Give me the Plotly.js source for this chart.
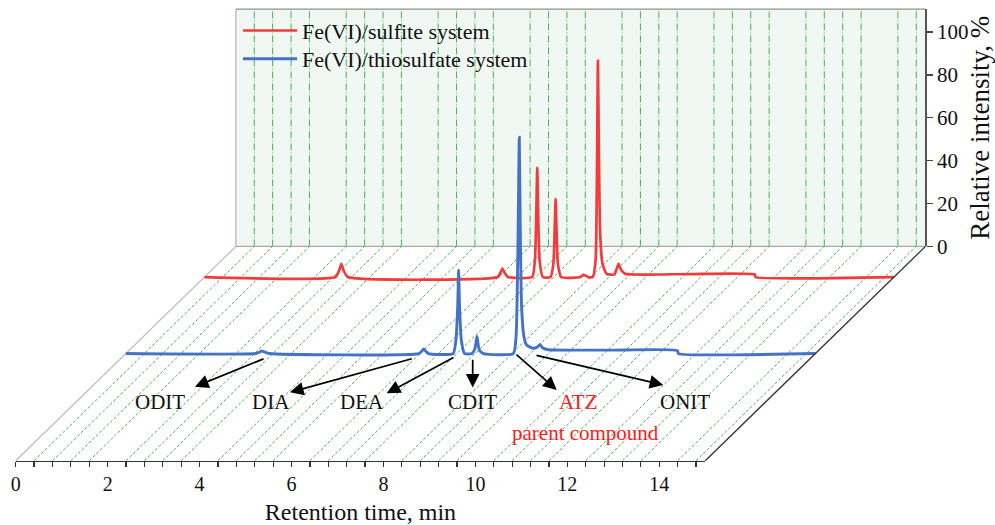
<!DOCTYPE html>
<html>
<head>
<meta charset="utf-8">
<script src="https://cdn.plot.ly/plotly-3.0.1.min.js"></script>
<style>html,body{margin:0;padding:0;background:#fff;}#chart{width:995px;height:525px;}</style>
</head>
<body>
<div id="chart"></div>
<script>
// ---------- data (retention time in min, relative intensity in %) ----------
const seriesNames = ["Fe(VI)/sulfite system", "Fe(VI)/thiosulfate system"];

const redTime = [0, 2.85, 2.93, 2.98, 3.03, 3.12, 6.38, 6.44, 6.48, 6.53, 6.60,
  7.13, 7.19, 7.22, 7.24, 7.26, 7.29, 7.36, 7.53, 7.59, 7.62, 7.64, 7.66, 7.69, 7.76,
  8.18, 8.24, 8.28, 8.34, 8.45, 8.51, 8.54, 8.56, 8.58, 8.61, 8.66, 8.75, 8.92,
  8.97, 9.01, 9.06, 9.15, 10.5, 11.97, 11.99, 15.0];
const redIntensity = [0, 0, 3, 6.2, 3, 0, 0, 2, 3.9, 2, 0,
  0, 8, 30, 51, 30, 8, 0, 0, 6, 22, 36.5, 22, 6, 0,
  0, 1, 0.8, 0, 0, 8, 50, 101, 60, 20, 6, 1.5, 1.2,
  4, 6.2, 3.5, 1.5, 1.4, 1.2, 0, 0];

const blueTime = [0, 2.82, 2.92, 2.96, 3.01, 3.12, 6.38, 6.44, 6.48, 6.52, 6.58,
  7.12, 7.18, 7.22, 7.24, 7.26, 7.30, 7.37, 7.53, 7.59, 7.62, 7.64, 7.66, 7.69, 7.78,
  8.43, 8.49, 8.53, 8.56, 8.58, 8.61, 8.66, 8.72, 8.85, 8.95, 9.01, 9.07, 9.20,
  10.5, 12.0, 12.02, 15.0];
const blueIntensity = [0, 0, 0.8, 1.2, 0.8, 0, 0, 1.2, 2.2, 1.2, 0,
  0, 6, 22, 39, 22, 6, 0, 0, 2, 5.5, 8, 5, 1.5, 0,
  0, 8, 50, 101, 60, 22, 8, 4, 2.5, 3, 4.3, 2.6, 1.8,
  1.6, 1.4, 0, 0];

const xTickVals = [0, 2, 4, 6, 8, 10, 12, 14];
const yTickVals = [0, 20, 40, 60, 80, 100];

const labels = ["ODIT", "DIA", "DEA", "CDIT", "ATZ", "ONIT"];

// ---------- pseudo-3D projection (layout constants) ----------
const T_MAX = 15;            // length of time axis
const SHEAR_X = 4.79;        // horizontal shift of back edge (min)
const SHEAR_Y = 100;         // vertical shift of back edge (intensity units)
const WALL_H = 110.7;        // wall height (intensity units)
const DEPTH = [0.857, 0.5];  // depth of each series (0 front, 1 back)
const PXX = 45.97, PXY = 2.143, X0PX = 15.7, Y0PX = 460.7, W = 995, H = 525;

function proj(ts, vs, d) {
  return {x: ts.map(t => t + d * SHEAR_X), y: vs.map(v => v + d * SHEAR_Y)};
}
function px2x(px) { return (px - X0PX) / PXX; }
function px2y(py) { return (Y0PX - py) / PXY; }

const red = proj(redTime, redIntensity, DEPTH[0]);
const blue = proj(blueTime, blueIntensity, DEPTH[1]);

const traces = [
  {x: red.x, y: red.y, type: 'scatter', mode: 'lines', name: seriesNames[0], legend: 'legend',
   line: {color: '#f03c3c', width: 2.7, shape: 'spline', smoothing: 0.5}, hoverinfo: 'skip'},
  {x: blue.x, y: blue.y, type: 'scatter', mode: 'lines', name: seriesNames[1], legend: 'legend2',
   line: {color: '#4472c4', width: 2.9, shape: 'spline', smoothing: 0.5}, hoverinfo: 'skip'},
  {x: [null], y: [null], xaxis: 'x2', yaxis: 'y2', type: 'scatter', mode: 'lines',
   showlegend: false, hoverinfo: 'skip'}
];

// ---------- shapes: wall, floor, grid ----------
const shapes = [];
shapes.push({type: 'rect', layer: 'below', xref: 'x', yref: 'y',
  x0: SHEAR_X, x1: T_MAX + SHEAR_X, y0: SHEAR_Y, y1: SHEAR_Y + WALL_H,
  fillcolor: '#f1f8f4', line: {width: 0}});
const green = '#46b34c';
for (let k = 1; k * 0.4 < T_MAX - 0.01; k++) {
  if (k % 5 === 0) continue;
  const t = k * 0.4;
  shapes.push({type: 'line', layer: 'below', xref: 'x', yref: 'y',
    x0: t, y0: 0, x1: t + SHEAR_X, y1: SHEAR_Y, line: {color: green, width: 1, dash: '3px,2px'}});
  shapes.push({type: 'line', layer: 'below', xref: 'x', yref: 'y',
    x0: t + SHEAR_X, y0: SHEAR_Y, x1: t + SHEAR_X, y1: SHEAR_Y + WALL_H,
    line: {color: green, width: 1, dash: '7px,2px,1px,2px'}});
}
// wall borders
shapes.push({type: 'line', layer: 'below', xref: 'x', yref: 'y', x0: SHEAR_X, y0: SHEAR_Y,
  x1: SHEAR_X, y1: SHEAR_Y + WALL_H, line: {color: '#b0b0b0', width: 1.2}});
shapes.push({type: 'line', layer: 'below', xref: 'x', yref: 'y', x0: SHEAR_X, y0: SHEAR_Y + WALL_H,
  x1: T_MAX + SHEAR_X, y1: SHEAR_Y + WALL_H, line: {color: '#909090', width: 1.2}});
shapes.push({type: 'line', layer: 'below', xref: 'x', yref: 'y', x0: SHEAR_X, y0: SHEAR_Y,
  x1: T_MAX + SHEAR_X, y1: SHEAR_Y, line: {color: '#a8a8a8', width: 1.2}});
// floor side edges
shapes.push({type: 'line', layer: 'below', xref: 'x', yref: 'y', x0: 0, y0: 0,
  x1: SHEAR_X, y1: SHEAR_Y, line: {color: '#bdbdbd', width: 1.2}});
shapes.push({type: 'line', layer: 'above', xref: 'x', yref: 'y', x0: T_MAX, y0: 0,
  x1: T_MAX + SHEAR_X, y1: SHEAR_Y, line: {color: '#333333', width: 1.3}});

// ---------- annotations ----------
const arrowPx = [ // [tailX, tailY, headX, headY] in px
  [265, 358.3, 195, 386.7],
  [413.3, 358.3, 290, 392.3],
  [455, 356.7, 386.7, 393.3],
  [472.7, 358.3, 472.7, 387.5],
  [515, 353.3, 556.7, 390],
  [535, 355, 663.3, 385]
];
const labelPx = [[160, 401.7], [270.7, 401.7], [361.7, 401.7], [472.7, 401.7], [578.3, 401.7], [685, 401.7]];
const labelColor = ['#111', '#111', '#111', '#111', '#ff1a1a', '#111'];
const serif = '"Liberation Serif", "Times New Roman", serif';
const annotations = [];
arrowPx.forEach(a => annotations.push({
  xref: 'x', yref: 'y', axref: 'x', ayref: 'y',
  x: px2x(a[2]), y: px2y(a[3]), ax: px2x(a[0]), ay: px2y(a[1]),
  text: '', showarrow: true, arrowhead: 2, arrowsize: 1.6, arrowwidth: 1.7, arrowcolor: '#000'
}));
labels.forEach((s, i) => annotations.push({
  xref: 'x', yref: 'y', x: px2x(labelPx[i][0]), y: px2y(labelPx[i][1]),
  text: s, showarrow: false, font: {family: serif, size: 21, color: labelColor[i]}
}));
annotations.push({xref: 'x', yref: 'y', x: px2x(585), y: px2y(433.3), text: 'parent compound',
  showarrow: false, font: {family: serif, size: 21, color: '#ff1a1a'}});

const legendBase = {xanchor: 'left', yanchor: 'top', bgcolor: 'rgba(0,0,0,0)',
  font: {family: serif, size: 22, color: '#111'}, itemwidth: 54};

const layout = {
  width: W, height: H,
  margin: {l: 0, r: 0, t: 0, b: 0, pad: 0},
  paper_bgcolor: '#fff', plot_bgcolor: 'rgba(0,0,0,0)',
  font: {family: serif, color: '#111'},
  showlegend: true,
  legend: Object.assign({x: 238 / W, y: 1 - 9.7 / H}, legendBase),
  legend2: Object.assign({x: 238 / W, y: 1 - 38 / H}, legendBase),
  xaxis: {visible: false, range: [px2x(0), px2x(W)], domain: [0, 1], fixedrange: true},
  yaxis: {visible: false, range: [px2y(H), px2y(0)], domain: [0, 1], fixedrange: true},
  xaxis2: {anchor: 'free', position: 1 - Y0PX / H, domain: [X0PX / W, (X0PX + T_MAX * PXX) / W],
    range: [0, T_MAX], tickvals: xTickVals, ticks: 'outside', ticklen: 5, tickwidth: 1.2,
    tickcolor: '#333', showline: true, linecolor: '#333', linewidth: 1.3, showgrid: false,
    zeroline: false, tickfont: {family: serif, size: 20, color: '#111'},
    minor: {dtick: 0.4, tick0: 0, ticks: 'outside', ticklen: 5, tickwidth: 1.2, tickcolor: '#333', showgrid: false},
    title: {text: 'Retention time, min', font: {family: serif, size: 24, color: '#111'}, standoff: 9}},
  yaxis2: {anchor: 'free', position: (X0PX + SHEAR_X * PXX) / W + T_MAX * PXX / W, side: 'right',
    domain: [1 - (Y0PX - SHEAR_Y * PXY) / H, 1 - (Y0PX - (SHEAR_Y + WALL_H) * PXY) / H],
    range: [0, WALL_H], tickvals: yTickVals, ticks: 'outside', ticklen: 6, tickwidth: 1.2,
    tickcolor: '#444', showline: true, linecolor: '#555', linewidth: 1.3, showgrid: false,
    zeroline: false, tickfont: {family: serif, size: 21, color: '#111'},
    title: {text: 'Relative intensity, %', font: {family: serif, size: 27, color: '#111'}, standoff: 8}},
  shapes: shapes,
  annotations: annotations
};

Plotly.newPlot('chart', traces, layout, {displayModeBar: false, staticPlot: true});
</script>
</body>
</html>
